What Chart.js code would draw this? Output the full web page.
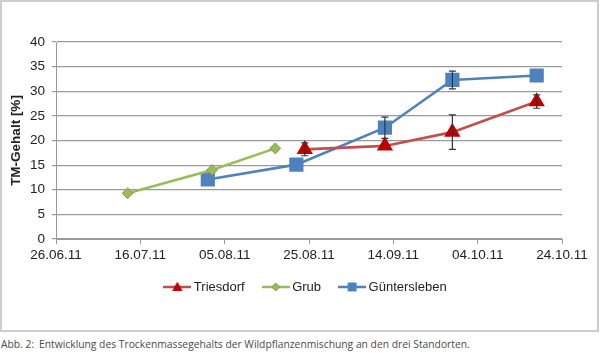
<!DOCTYPE html>
<html>
<head>
<meta charset="utf-8">
<script src="https://cdn.jsdelivr.net/npm/chart.js@4.4.0/dist/chart.umd.min.js"></script>
<style>
  body { margin: 0; background: #fff; }
  #frame { position: absolute; left: 0; top: 0; width: 595px; height: 328px; border: 2px solid #cdcdcd; }
  #wrap { position: absolute; left: 0; top: 0; width: 600px; height: 333px; }
  #caption { position: absolute; left: 1px; top: 337px; font: 10.3px "Open Sans", sans-serif; color: #4a4a4a; white-space: nowrap; }
  #caption span { position: absolute; left: 38px; top: 0; }
</style>
</head>
<body>
<div id="frame"></div>
<div id="wrap"><canvas id="chart"></canvas></div>
<div id="caption">Abb. 2:<span>Entwicklung des Trockenmassegehalts der Wildpflanzenmischung an den drei Standorten.</span></div>
<script>
// Achsenbeschriftung (Datum)
const xTickLabels = ["26.06.11", "16.07.11", "05.08.11", "25.08.11", "14.09.11", "04.10.11", "24.10.11"];

// Triesdorf
const triesdorfDates = ["24.08.11", "12.09.11", "28.09.11", "18.10.11"];
const triesdorfValues = [18.2, 18.9, 21.7, 27.9];
const triesdorfErrors = [1.3, 0, 3.5, 1.35];

// Grub
const grubDates = ["13.07.11", "02.08.11", "17.08.11"];
const grubValues = [9.3, 14.0, 18.4];

// Güntersleben
const guentDates = ["01.08.11", "22.08.11", "12.09.11", "28.09.11", "18.10.11"];
const guentValues = [12.1, 15.1, 22.6, 32.3, 33.2];
const guentErrors = [0, 0, 2.15, 1.8, 0];

const DAY = 86400000;
function toTime(s) {
  const [d, m, y] = s.split(".").map(Number);
  return Date.UTC(2000 + y, m - 1, d);
}
const t0 = toTime(xTickLabels[0]);
const toDay = (s) => (toTime(s) - t0) / DAY;

function points(dates, values, errors) {
  return dates.map((d, i) => ({ x: toDay(d), y: values[i], err: errors ? errors[i] : 0 }));
}

// kleine Legendensymbole: Linie + Marker
function legendIcon(lineColor, fill, stroke, style) {
  const c = document.createElement("canvas");
  c.width = 28; c.height = 14;
  const g = c.getContext("2d");
  g.strokeStyle = lineColor; g.lineWidth = 2.5;
  g.beginPath(); g.moveTo(0, 7); g.lineTo(28, 7); g.stroke();
  g.fillStyle = fill; g.strokeStyle = stroke; g.lineWidth = 1;
  g.beginPath();
  if (style === "triangle") { g.moveTo(14, 2.5); g.lineTo(18.5, 10.5); g.lineTo(9.5, 10.5); g.closePath(); }
  if (style === "rectRot") { g.moveTo(14, 3); g.lineTo(18, 7); g.lineTo(14, 11); g.lineTo(10, 7); g.closePath(); }
  if (style === "rect") { g.rect(10, 3, 8, 8); }
  g.fill(); g.stroke();
  return c;
}

const errorBars = {
  id: "errorBars",
  afterDatasetsDraw(chart) {
    const { ctx, scales: { x, y } } = chart;
    ctx.save();
    ctx.strokeStyle = "#333";
    ctx.lineWidth = 1.2;
    chart.data.datasets.forEach((ds) => {
      ds.data.forEach((p) => {
        if (!p.err) return;
        const px = x.getPixelForValue(p.x);
        const top = y.getPixelForValue(p.y + p.err);
        const bot = y.getPixelForValue(p.y - p.err);
        ctx.beginPath();
        ctx.moveTo(px, top); ctx.lineTo(px, bot);
        ctx.moveTo(px - 3.5, top); ctx.lineTo(px + 3.5, top);
        ctx.moveTo(px - 3.5, bot); ctx.lineTo(px + 3.5, bot);
        ctx.stroke();
      });
    });
    ctx.restore();
  },
};

// Legende etwas nach rechts schieben (wie im Original)
const legendShift = {
  id: "legendShift",
  afterLayout(chart) {
    chart.legend.left += 26;
    chart.legend.right += 26;
  },
};

const font = { family: "'Liberation Sans', Arial, sans-serif", size: 13.5 };

new Chart(document.getElementById("chart"), {
  type: "line",
  data: {
    datasets: [
      {
        label: "Triesdorf",
        data: points(triesdorfDates, triesdorfValues, triesdorfErrors),
        borderColor: "#C0504D",
        borderWidth: 2.6,
        pointStyle: "triangle",
        pointRadius: 6.8,
        pointBackgroundColor: "#C00000",
        pointBorderColor: "#C00000",
        icon: legendIcon("#C0504D", "#C00000", "#C00000", "triangle"),
      },
      {
        label: "Grub",
        data: points(grubDates, grubValues),
        borderColor: "#9BBB59",
        borderWidth: 2.6,
        pointStyle: "rectRot",
        pointRadius: 5.4,
        pointBackgroundColor: "#9BBB59",
        pointBorderColor: "#7E9A46",
        pointBorderWidth: 1,
        icon: legendIcon("#9BBB59", "#9BBB59", "#7E9A46", "rectRot"),
      },
      {
        label: "Güntersleben",
        data: points(guentDates, guentValues, guentErrors),
        borderColor: "#4F81BD",
        borderWidth: 2.6,
        pointStyle: "rect",
        pointRadius: 8.2,
        pointBackgroundColor: "#4F81BD",
        pointBorderColor: "#4F81BD",
        icon: legendIcon("#4F81BD", "#4F81BD", "#4F81BD", "rect"),
      },
    ],
  },
  options: {
    responsive: true,
    maintainAspectRatio: false,
    animation: false,
    layout: { padding: { top: 42, left: 0, right: 38, bottom: 29.5 } },
    scales: {
      x: {
        type: "linear",
        min: 0,
        max: toDay(xTickLabels[xTickLabels.length - 1]),
        afterBuildTicks: (scale) => {
          scale.ticks = xTickLabels.map((l) => ({ value: toDay(l) }));
        },
        afterFit: (scale) => { scale.height = 20.5; },
        grid: { drawOnChartArea: false, color: "#999", tickLength: 5 },
        border: { color: "#999" },
        ticks: {
          autoSkip: false,
          maxRotation: 0,
          padding: 3,
          color: "#222",
          font: font,
          callback: (v, i) => xTickLabels[i],
        },
      },
      y: {
        min: 0,
        max: 40,
        afterFit: (scale) => { scale.width = 56; },
        grid: { color: "#9a9a9a", tickLength: 4, lineWidth: 1.2 },
        border: { color: "#9a9a9a" },
        ticks: { stepSize: 5, padding: 7, color: "#222", font: font },
        title: {
          display: true,
          text: "TM-Gehalt [%]",
          color: "#222",
          font: { family: font.family, size: 13.5, weight: "bold" },
          padding: { top: 8, bottom: 0 },
        },
      },
    },
    plugins: {
      legend: {
        position: "bottom",
        labels: {
          usePointStyle: true,
          pointStyleWidth: 20,
          padding: 21,
          color: "#222",
          font: { family: font.family, size: 13 },
          generateLabels: (chart) =>
            chart.data.datasets.map((ds, i) => ({
              text: ds.label,
              pointStyle: ds.icon,
              datasetIndex: i,
              fontColor: "#222",
              lineWidth: 0,
              hidden: false,
            })),
        },
      },
      tooltip: { enabled: false },
    },
  },
  plugins: [errorBars, legendShift],
});
</script>
</body>
</html>
